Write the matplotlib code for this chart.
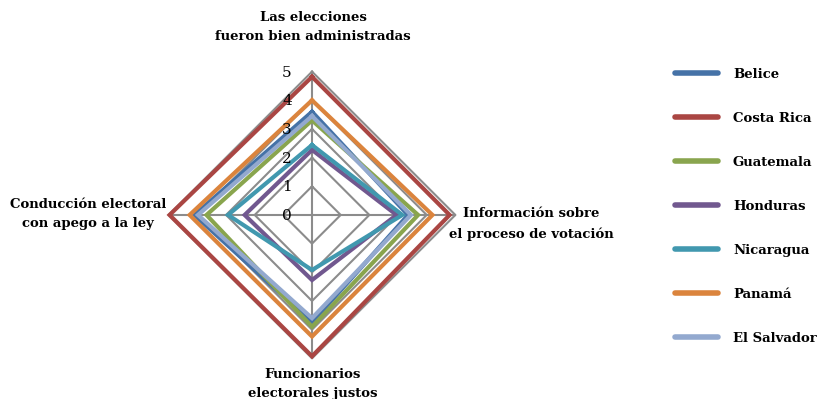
import numpy as np
from matplotlib import pyplot as plt

# ejes del radar (arriba, derecha, abajo, izquierda)
ejes = ['Las elecciones\nfueron bien administradas',
        'Información sobre\nel proceso de votación',
        'Funcionarios\nelectorales justos',
        'Conducción electoral\ncon apego a la ley']

paises = ['Belice', 'Costa Rica', 'Guatemala', 'Honduras', 'Nicaragua', 'Panamá', 'El Salvador']
belice = [3.6, 3.35, 3.75, 4.1]
costa_rica = [4.82, 4.8, 4.93, 4.97]
guatemala = [3.3, 3.7, 3.9, 3.68]
honduras = [2.27, 2.95, 2.27, 2.35]
nicaragua = [2.44, 3.15, 1.92, 2.93]
panama = [4.0, 4.2, 4.24, 4.27]
el_salvador = [3.45, 3.45, 3.6, 3.98]
valores = [belice, costa_rica, guatemala, honduras, nicaragua, panama, el_salvador]
colores = ['#4572A7', '#AA4643', '#89A54E', '#71588F', '#4198AF', '#DB843D', '#93A9CF']
niveles = [0, 1, 2, 3, 4, 5]

fuente = 'DejaVu Serif'

fig = plt.figure(figsize=(8.18, 3.99), dpi=100)
ax = fig.add_axes([0.2062, 0.102, 0.3505, 0.7185], projection='polar')
ax.set_theta_zero_location('N')
ax.set_theta_direction(-1)
ax.set_ylim(0, 5)
ax.grid(False)
ax.spines['polar'].set_visible(False)
ax.set_xticks([])
ax.set_yticks([])
ax.patch.set_alpha(0)

ang = np.linspace(0, 2 * np.pi, len(ejes), endpoint=False)
ang_c = np.append(ang, ang[0])

# rejilla en rombos
for n in niveles[1:]:
    ax.plot(ang_c, [n] * len(ang_c), color='#8c8c8c', lw=1.5, clip_on=False, zorder=1)
for a in ang:
    ax.plot([a, a], [0, 5], color='#8c8c8c', lw=1.5, clip_on=False, zorder=1)

for n in niveles:
    ax.annotate(str(n), xy=(0, n), xytext=(-25, -1), textcoords='offset pixels',
                ha='center', va='center', fontsize=11, family=fuente)

lineas = []
for p, v, c in zip(paises, valores, colores):
    l, = ax.plot(ang_c, v + [v[0]], color=c, lw=3, clip_on=False, zorder=2,
                 solid_joinstyle='miter', label=p)
    lineas.append(l)

# etiquetas de los ejes
estilo = dict(ha='center', va='center', fontsize=9.5, family=fuente,
              fontweight='bold', linespacing=1.65)
fig.text(313 / 818, 1 - 27 / 399, ejes[0], **estilo)
fig.text(531 / 818, 1 - 224 / 399, ejes[1], **estilo)
fig.text(313 / 818, 1 - 384 / 399, ejes[2], **estilo)
fig.text(88 / 818, 1 - 214 / 399, ejes[3], **estilo)

fig.legend(handles=lineas, loc='upper left', bbox_to_anchor=(663 / 818, 1 - 56 / 399),
           frameon=False, handlelength=3.3, handletextpad=1.1, labelspacing=2.35,
           prop={'family': fuente, 'size': 9.5, 'weight': 'bold'})
for l in fig.legends[0].get_lines():
    l.set_linewidth(4)
    l.set_solid_capstyle('round')

fig.savefig('out.png', dpi=100)
